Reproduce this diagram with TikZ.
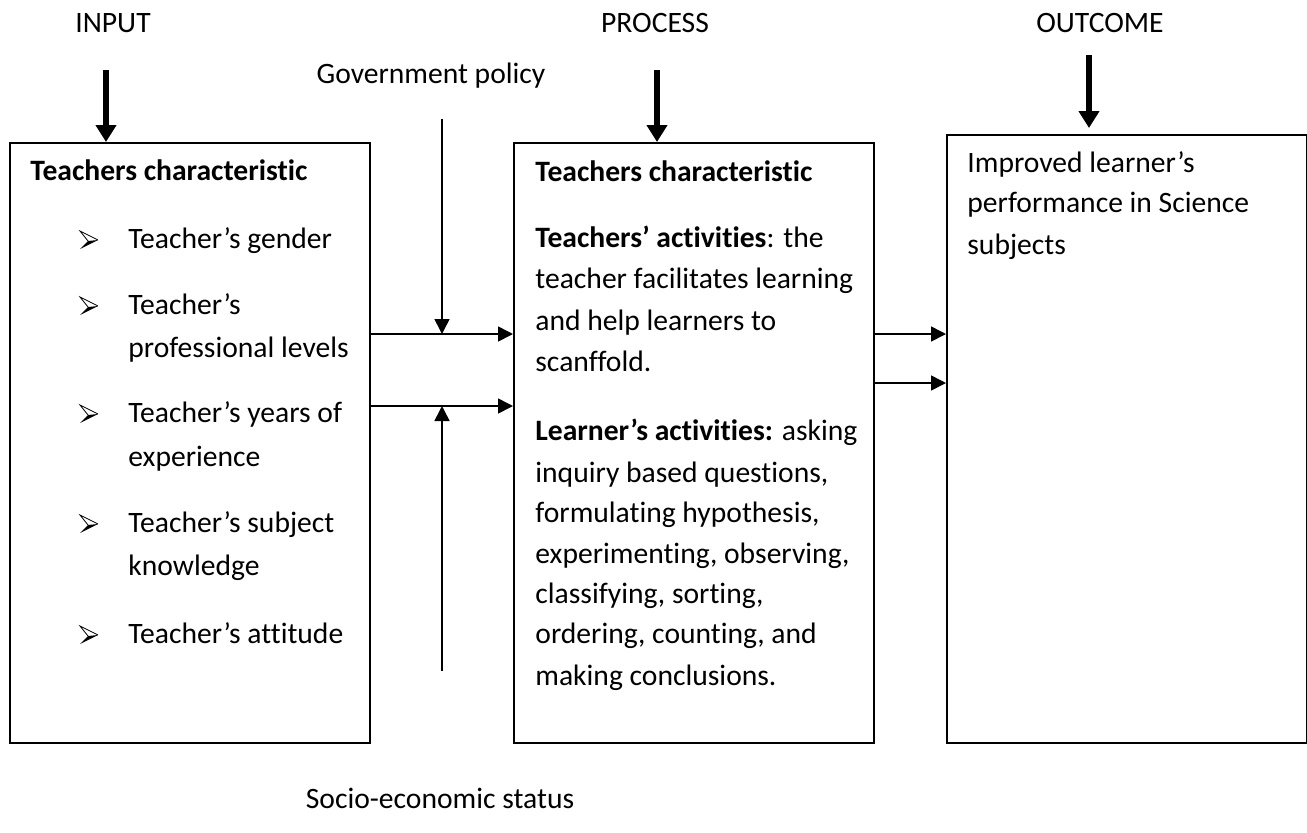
\documentclass[tikz,border=0pt]{standalone}
\usepackage{fontspec}
\setmainfont{Carlito}[Ligatures=NoCommon]
\usetikzlibrary{arrows.meta, positioning, calc}
\newcommand\bodyfont{\fontsize{14.8}{20.5}\selectfont}
\tikzset{
    every node/.style={font=\bodyfont, inner sep=0pt},
    box node/.style={draw, line width=1pt, anchor=north west, minimum width=180pt},
    line/.style={anchor=base west},
    head/.style={anchor=base},
    flow/.style={line width=0.8pt, -{Triangle[length=7.5pt,width=7.5pt]}},
    main flow/.style={line width=2.8pt, -{Triangle[length=8.5pt,width=10pt]}},
    pics/pointer/.style={code={
        \fill (9,0) -- (-1,1) -- (-9,9) -- cycle;
        \draw[line width=0.4pt, line join=miter] (9,0) -- (-9,-9) -- (-1,1);
    }}
}

\begin{document}
\begin{tikzpicture}[x=0.5pt, y=-0.5pt]
  \useasboundingbox (0,0) rectangle (1307,832);

  \node[head] (input)   at (113,32)  {INPUT};
  \node[head] (process) at (655,32)  {PROCESS};
  \node[head] (outcome) at (1100,32) {OUTCOME};
  \node[head] (gov)     at (431,83)  {Government policy};
  \node[head] (socio)   at (440,808) {Socio-economic status};

  \node[box node, minimum height=300pt] (inbox)   at (9,142)   {};
  \node[box node, minimum height=300pt] (procbox) at (513,142) {};
  \node[box node, minimum height=304pt] (outbox)  at (946,134) {};

  % input box
  \node[line] (in0) at (30,180) {\textbf{Teachers characteristic}};
  \foreach \y/\txt [count=\i] in {248/{Teacher’s gender}, 314/{Teacher’s},
      422/{Teacher’s years of}, 532/{Teacher’s subject}, 643/{Teacher’s attitude}} {
    \pic at (89,\y-8) {pointer};
    \node[line] (item\i) at (128,\y) {\txt};
  }
  \foreach \y/\txt [count=\i] in {357/{professional levels}, 466/experience, 575/knowledge}
    \node[line] (more\i) at (128,\y) {\txt};

  % process box
  \node[line] (p0) at (535,181) {\textbf{Teachers characteristic}};
  \foreach \y/\txt [count=\i] in {247/{\textbf{Teachers’ activities}: the},
      288/{teacher facilitates learning}, 330/{and help learners to}, 371/{scanffold.},
      440/{\textbf{Learner’s activities:} asking}, 482/{inquiry based questions,},
      522/{formulating hypothesis,}, 563/{experimenting, observing,},
      603/{classifying, sorting,}, 643/{ordering, counting, and}, 685/{making conclusions.}}
    \node[line] (p\i) at (535,\y) {\txt};

  % outcome box
  \foreach \y/\txt [count=\i] in {172/{Improved learner’s}, 212/{performance in Science}, 254/subjects}
    \node[line] (o\i) at (967,\y) {\txt};

  \coordinate (in top)   at (106,70);
  \coordinate (proc top) at (657,70);
  \coordinate (out top)  at (1089,55);
  \draw[main flow] (in top) -- (in top |- inbox.north);
  \draw[main flow] (proc top) -- (proc top |- procbox.north);
  \draw[main flow, shorten >=3pt] (out top) -- (out top |- outbox.north);

  \coordinate (gov end)   at (442,119);
  \coordinate (socio end) at (442,671);
  \coordinate (j1) at (442,334);
  \coordinate (j2) at (442,406);
  \draw[flow] (inbox.east |- j1) -- (procbox.west |- j1);
  \draw[flow] (inbox.east |- j2) -- (procbox.west |- j2);
  \draw[flow] (gov end) -- (j1);
  \draw[flow] (socio end) -- (j2);

  \coordinate (k1) at (909,334);
  \coordinate (k2) at (909,383);
  \draw[flow] (procbox.east |- k1) -- (outbox.west |- k1);
  \draw[flow] (procbox.east |- k2) -- (outbox.west |- k2);
\end{tikzpicture}
\end{document}
